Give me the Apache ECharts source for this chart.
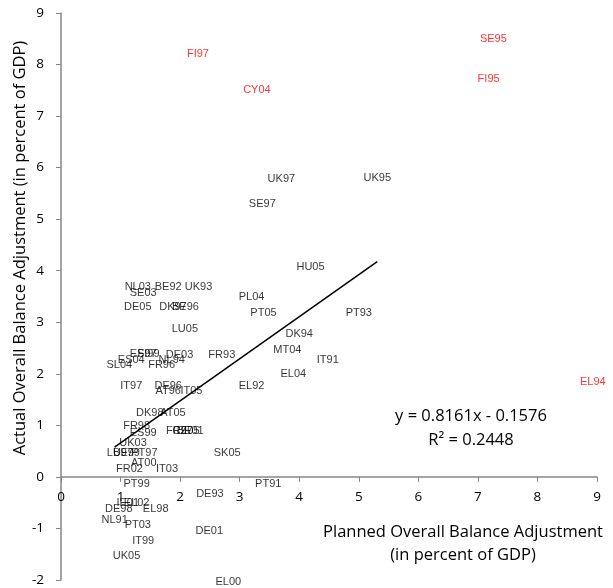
<!DOCTYPE html>
<html><head><meta charset="utf-8">
<script src="https://cdn.jsdelivr.net/npm/echarts@6/dist/echarts.min.js"></script>
<style>html,body{margin:0;padding:0;background:#fff}#c{width:613px;height:588px}</style>
</head><body><div id="c"></div>
<script>
// Black (included) observations
const names = ["UK97","UK95","SE97","HU05","PL04","PT05","PT93","DK94","MT04","IT91","EL04","EL92",
"NL03","SE03","BE92","UK93","DE05","DK97","BE96","LU05","FR93","DE03","ES97","FI99","ES04","SL04","NL94","FR96",
"IT97","DE96","AT96","IT05","DK98","AT05","FR98","ES99","FR97","CZ05","BE01","UK03","LU97","BE99","PT97","SK05",
"AT00","FR02","IT03","PT99","PT91","DE93","IE01","EL02","DE98","EL98","NL91","PT03","DE01","IT99","UK05","EL00"];
const xs = [3.70,5.31,3.38,4.19,3.20,3.40,5.00,4.00,3.80,4.48,3.90,3.20,
1.29,1.38,1.80,2.31,1.29,1.88,2.09,2.08,2.70,1.99,1.38,1.47,1.18,0.98,1.86,1.69,
1.18,1.80,1.80,2.19,1.49,1.88,1.27,1.38,1.99,2.10,2.17,1.21,0.99,1.10,1.40,2.79,
1.39,1.15,1.78,1.27,3.48,2.50,1.12,1.27,0.97,1.59,0.90,1.29,2.49,1.38,1.10,2.81];
const ys = [5.78,5.79,5.29,4.07,3.49,3.18,3.19,2.78,2.46,2.27,2.00,1.76,
3.68,3.57,3.68,3.68,3.29,3.29,3.29,2.87,2.37,2.37,2.38,2.38,2.27,2.17,2.27,2.17,
1.77,1.77,1.66,1.66,1.25,1.25,0.99,0.86,0.885,0.885,0.885,0.66,0.46,0.46,0.46,0.46,
0.28,0.15,0.15,-0.14,-0.14,-0.34,-0.50,-0.50,-0.63,-0.63,-0.84,-0.93,-1.05,-1.25,-1.54,-2.04];
// Red (excluded) observations
const redNames = ["FI97","CY04","SE95","FI95","EL94"];
const redX = [2.30,3.29,7.26,7.18,8.93];
const redY = [8.21,7.51,8.50,7.72,1.85];
// Trend line coefficients
const slope = 0.8161, intercept = -0.1576, r2 = 0.2448;
const yMin = -2, yMax = 9, xMin = 0, xMax = 9;

const black = names.map((n,i)=>({name:n,value:[xs[i],ys[i]]}));
const red = redNames.map((n,i)=>({name:n,value:[redX[i],redY[i]]}));
const tx0 = Math.min(...xs), tx1 = Math.max(...xs);
const trend = [[tx0, slope*tx0+intercept],[tx1, slope*tx1+intercept]];

const gridTop = 13, gridBottom = 8, H = 588;
const plotH = H - gridTop - gridBottom;
const zeroOffset = -plotH * (0 - yMin) / (yMax - yMin);

const F = 'Liberation Sans';
const T = 'Open Sans';
const titleFont = '16.5px Open Sans';
const chart = echarts.init(document.getElementById('c'), null, {renderer:'canvas'});
chart.setOption({
  animation:false,
  backgroundColor:'#fff',
  grid:{left:61,right:16,top:gridTop,bottom:gridBottom,containLabel:false,outerBoundsMode:'none'},
  xAxis:{type:'value',min:xMin,max:xMax,interval:1,offset:zeroOffset,
    axisLine:{onZero:false,lineStyle:{color:'#868686',width:1.5}},
    axisTick:{show:true,length:5,lineStyle:{color:'#868686'}},
    axisLabel:{color:'#000',fontFamily:T,fontSize:13.5,margin:13},
    splitLine:{show:false}},
  yAxis:{type:'value',min:yMin,max:yMax,interval:1,
    axisLine:{show:true,onZero:false,lineStyle:{color:'#868686',width:1.5}},
    axisTick:{show:true,length:5,lineStyle:{color:'#868686'}},
    axisLabel:{color:'#000',fontFamily:T,fontSize:13.5,margin:17},
    splitLine:{show:false}},
  graphic:[
    {type:'text',x:20,y:248,rotation:Math.PI/2,style:{text:'Actual Overall Balance Adjustment (in percent of GDP)',fill:'#000',font:titleFont,align:'center',verticalAlign:'middle'}},
    {type:'text',x:463,y:532,style:{text:'Planned Overall Balance Adjustment',fill:'#000',font:titleFont,align:'center',verticalAlign:'middle'}},
    {type:'text',x:463,y:555,style:{text:'(in percent of GDP)',fill:'#000',font:titleFont,align:'center',verticalAlign:'middle'}},
    {type:'text',x:471,y:416,style:{text:'y = '+slope.toFixed(4)+'x - '+Math.abs(intercept).toFixed(4),fill:'#000',font:titleFont,align:'center',verticalAlign:'middle'}},
    {type:'text',x:471,y:440,style:{text:'R² = '+r2.toFixed(4),fill:'#000',font:titleFont,align:'center',verticalAlign:'middle'}}
  ],
  series:[
    {type:'line',data:trend,symbol:'none',silent:true,lineStyle:{color:'#000',width:1.5},z:1},
    {type:'scatter',data:black,symbolSize:1,itemStyle:{color:'rgba(0,0,0,0)'},silent:true,clip:false,
      label:{show:true,position:'inside',formatter:p=>p.name,color:'#000',fontFamily:F,fontSize:11},z:3},
    {type:'scatter',data:red,symbolSize:1,itemStyle:{color:'rgba(0,0,0,0)'},silent:true,clip:false,
      label:{show:true,position:'inside',formatter:p=>p.name,color:'#ff0000',fontFamily:F,fontSize:11},z:3}
  ]
});
</script></body></html>
